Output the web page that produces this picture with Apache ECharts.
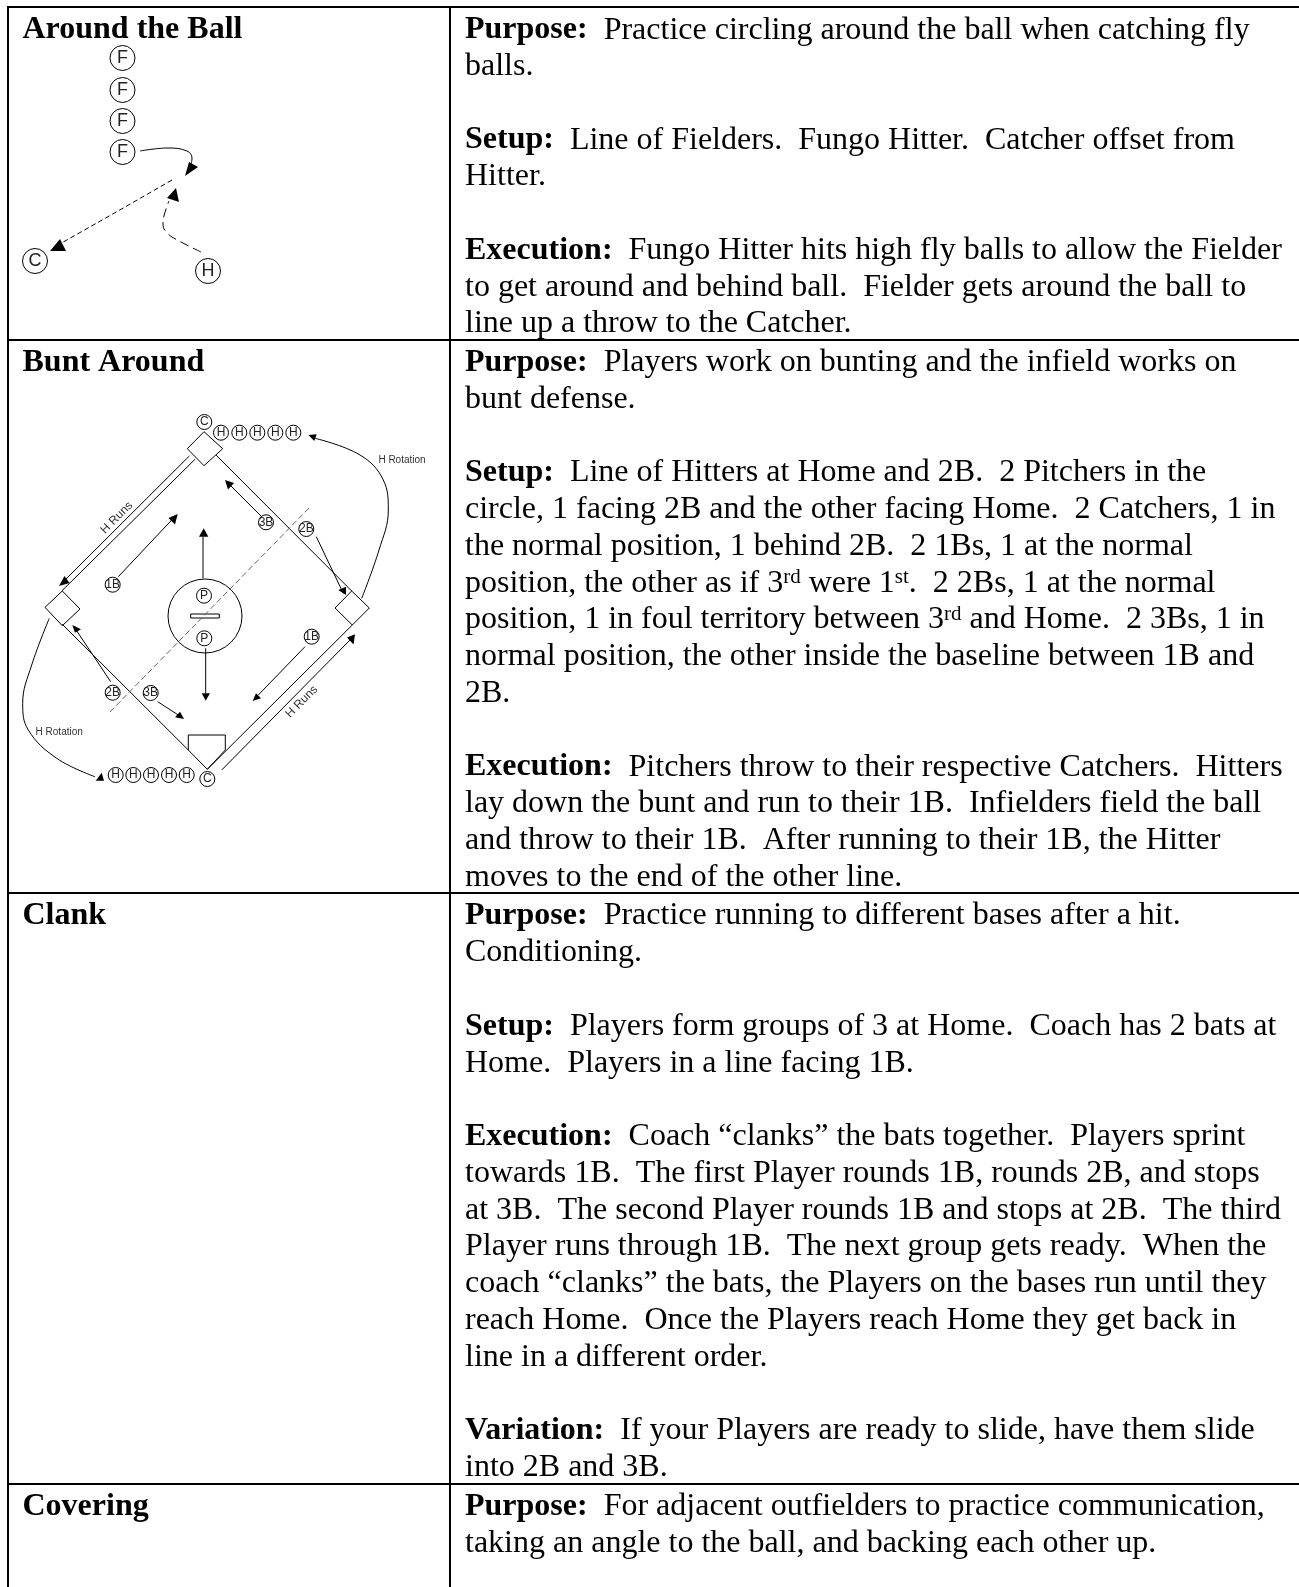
<!DOCTYPE html>
<html>
<head>
<meta charset="utf-8">
<title>Drills</title>
<script src="https://cdn.jsdelivr.net/npm/echarts@6/dist/echarts.min.js"></script>
<style>
html, body { margin: 0; padding: 0; background: #fff; }
#chart { width: 1299px; height: 1587px; }
</style>
</head>
<body>
<div id="chart"></div>
<script>
// 页面文字：每行 [文字, 基线]
const rowTitles = [
	['Around the Ball', 37],
	['Bunt Around', 369.3],
	['Clank', 922.4],
	['Covering', 1513.2]
]
const aroundTheBallText = [
	['{b|Purpose:}  Practice circling around the ball when catching fly', 37],
	['balls.', 73.7],
	['{b|Setup:}  Line of Fielders.  Fungo Hitter.  Catcher offset from', 147],
	['Hitter.', 183.8],
	['{b|Execution:}  Fungo Hitter hits high fly balls to allow the Fielder', 257.3],
	['to get around and behind ball.  Fielder gets around the ball to', 294],
	['line up a throw to the Catcher.', 330.8]
]
const buntAroundText = [
	['{b|Purpose:}  Players work on bunting and the infield works on', 369.3],
	['bunt defense.', 406],
	['{b|Setup:}  Line of Hitters at Home and 2B.  2 Pitchers in the', 479.5],
	['circle, 1 facing 2B and the other facing Home.  2 Catchers, 1 in', 516.3],
	['the normal position, 1 behind 2B.  2 1Bs, 1 at the normal', 553.1],
	['position, the other as if 3{sup|rd} were 1{sup|st}.  2 2Bs, 1 at the normal', 589.9],
	['position, 1 in foul territory between 3{sup|rd} and Home.  2 3Bs, 1 in', 626.7],
	['normal position, the other inside the baseline between 1B and', 663.5],
	['2B.', 700.3],
	['{b|Execution:}  Pitchers throw to their respective Catchers.  Hitters', 773.9],
	['lay down the bunt and run to their 1B.  Infielders field the ball', 810.7],
	['and throw to their 1B.  After running to their 1B, the Hitter', 847.5],
	['moves to the end of the other line.', 884.3]
]
const clankText = [
	['{b|Purpose:}  Practice running to different bases after a hit.', 922.4],
	['Conditioning.', 959.2],
	['{b|Setup:}  Players form groups of 3 at Home.  Coach has 2 bats at', 1033.4],
	['Home.  Players in a line facing 1B.', 1070.2],
	['{b|Execution:}  Coach “clanks” the bats together.  Players sprint', 1143.4],
	['towards 1B.  The first Player rounds 1B, rounds 2B, and stops', 1180.2],
	['at 3B.  The second Player rounds 1B and stops at 2B.  The third', 1217],
	['Player runs through 1B.  The next group gets ready.  When the', 1253.8],
	['coach “clanks” the bats, the Players on the bases run until they', 1290.6],
	['reach Home.  Once the Players reach Home they get back in', 1327.4],
	['line in a different order.', 1364.2],
	['{b|Variation:}  If your Players are ready to slide, have them slide', 1437.7],
	['into 2B and 3B.', 1474.5]
]
const coveringText = [
	['{b|Purpose:}  For adjacent outfielders to practice communication,', 1513.2],
	['taking an angle to the ball, and backing each other up.', 1550]
]

// 表格线
const tableRules = [
	[[7, 7], [1299, 7]],
	[[7, 340], [1299, 340]],
	[[7, 893], [1299, 893]],
	[[7, 1484], [1299, 1484]],
	[[8, 6], [8, 1587]],
	[[450, 6], [450, 1587]]
]

// 第一张图 Around the Ball
const bigPlayers = [[122.5, 58, 'F'], [122.5, 90, 'F'], [122.5, 121, 'F'], [122.5, 152, 'F'], [35, 261, 'C'], [208, 271, 'H']]
const fielderRun = [[140, 151], [168, 148], [187, 151], [192, 158], [191, 165]]
const throwLine = [[172, 180], [125, 207], [58, 245]]
const fungoLine = [[201, 252], [172, 237], [164, 229], [163, 222], [169, 201]]
const ballArrows = [
	[[198, 167], [185, 176], [189, 162]],
	[[50, 251], [60, 239], [66, 251]],
	[[176, 188], [167, 198], [179, 202]]
]

// 第二张图 Bunt Around
const smallPlayers = [
	[204.3, 422, 'C'], [221, 432.7, 'H'], [239.3, 432.7, 'H'], [257.3, 432.7, 'H'], [275.3, 432.7, 'H'], [293.3, 432.7, 'H'],
	[112.7, 584.7, '1B'], [266, 522.3, '3B'], [306.3, 529, '2B'], [204, 595.7, 'P'], [204.3, 638.3, 'P'],
	[311.7, 636.7, '1B'], [112.7, 692.7, '2B'], [150.7, 693, '3B'],
	[115.7, 775, 'H'], [133.3, 775, 'H'], [151, 775, 'H'], [169, 775, 'H'], [186.7, 775, 'H'], [207.3, 779, 'C']
]
const moundMark = [[205, 616]]
const rubber = [[190.7, 614], [219.3, 614], [219.3, 618], [190.7, 618]]
const bases = [
	[[204, 431.7], [222.7, 448.7], [204, 465.7], [187.3, 448.7]],
	[[62.3, 591], [80, 609], [62.3, 625.7], [45, 607.3]],
	[[351.7, 591], [369.3, 608], [352.3, 625], [335, 608]],
	[[188.3, 735], [225.3, 735], [225.3, 750], [207.3, 769.3], [188.3, 750]]
]
const straightLines = [
	[[216, 455], [351.7, 591]],
	[[62.3, 624.3], [188.3, 750]],
	[[207.3, 769.3], [352.3, 625]],
	[[195, 459.3], [61.7, 591]],
	[[189.3, 456], [64, 581]],
	[[221.7, 770], [350, 640]],
	[[118.3, 576.7], [173.3, 518.3]],
	[[203, 578.3], [203, 536.7]],
	[[261.7, 516.7], [230, 485]],
	[[316.3, 536.7], [343.3, 593.3]],
	[[110.7, 681.7], [75, 628.3]],
	[[157.7, 701.7], [178.3, 715]],
	[[205.7, 648.3], [205.7, 693.3]],
	[[305, 646.7], [258.3, 695]]
]
const foulLine = [[309, 508], [108, 714]]
const rotationRight = [[361.7, 598.3], [379, 550], [388.3, 510], [383.3, 480], [360, 455], [315, 438.3]]
const rotationLeft = [[49.3, 618.3], [31.7, 665], [22.7, 703.3], [28.3, 730], [56.7, 758.3], [95, 776.7]]
const buntArrows = [
	[[59, 586], [64.5, 576], [69.5, 583]],
	[[355, 634.3], [347, 637.5], [353.5, 644.5]],
	[[177.7, 514], [168.5, 518], [175, 524.5]],
	[[203.7, 528.3], [199, 536.7], [208.3, 536.7]],
	[[225, 480], [234, 483], [228, 489.5]],
	[[346, 595], [338.3, 590], [346, 586.7]],
	[[308.3, 435], [316.7, 434.3], [314.3, 441]],
	[[95.7, 780.7], [101.7, 772.7], [104, 780.7]],
	[[72.3, 625], [81, 629.3], [75, 632.7]],
	[[184, 719], [175, 717.3], [180, 711.7]],
	[[205.7, 700.7], [201.7, 693.3], [210, 693.3]],
	[[252.7, 701], [256, 693.3], [261, 698.3]]
]
const diagramNotes = [
	['H Runs', 116.7, 517.7, 45],
	['H Runs', 301.7, 701.7, 45],
	['H Rotation', 402, 460.3, 0],
	['H Rotation', 59.2, 732.3, 0]
]

const SERIF = 'Liberation Serif'
const SANS = 'Liberation Sans'
const textFont = { fontFamily: SERIF, fontSize: 32, fontWeight: 'normal', fontStyle: 'normal' }

// 折线
const pathSeries = (points, opts = {}) => ({
	type: 'line',
	data: points,
	silent: true,
	animation: false,
	symbol: 'none',
	clip: false,
	smooth: opts.smooth || false,
	lineStyle: { color: opts.color || '#000', width: opts.width || 1, type: opts.type || 'solid' }
})

// 多边形：底座、箭头
const polygonSeries = (list, style) => ({
	type: 'custom',
	silent: true,
	animation: false,
	clip: false,
	data: list.map(item => item[0]),
	renderItem: (params, api) => ({
		type: 'polygon',
		shape: { points: list[params.dataIndex].map(p => api.coord(p)) },
		style
	})
})

// 圆圈球员
const playerSeries = (list, size, fontSize) => ({
	type: 'scatter',
	silent: true,
	animation: false,
	symbolSize: size,
	clip: false,
	itemStyle: { color: '#fff', borderColor: '#000', borderWidth: 1, opacity: 1 },
	label: { show: true, position: 'inside', formatter: '{b}', color: '#222', fontFamily: SANS, fontSize },
	data: list.map(([x, y, name]) => ({ name, value: [x, y] }))
})

// 文字行
const textSeries = (list, x, weight) => ({
	type: 'custom',
	silent: true,
	animation: false,
	clip: false,
	data: list.map(item => [x, item[1]]),
	renderItem: (params, api) => {
		const pos = api.coord([api.value(0), api.value(1)])
		return {
			type: 'text',
			x: pos[0],
			y: pos[1] - 6.8,
			style: {
				text: list[params.dataIndex][0],
				...textFont,
				fontWeight: weight,
				fill: '#000',
				align: 'left',
				verticalAlign: 'middle',
				rich: {
					b: { ...textFont, fontWeight: 'bold', fill: '#000' },
					sup: { ...textFont, fontSize: 21, fill: '#000', verticalAlign: 'top', lineHeight: 22 }
				}
			}
		}
	}
})

const noteSeries = {
	type: 'custom',
	silent: true,
	animation: false,
	clip: false,
	data: diagramNotes.map(item => [item[1], item[2]]),
	renderItem: (params, api) => {
		const pos = api.coord([api.value(0), api.value(1)])
		const note = diagramNotes[params.dataIndex]
		return {
			type: 'text',
			x: pos[0],
			y: pos[1],
			rotation: note[3] * Math.PI / 180,
			style: {
				text: note[0],
				fontFamily: SANS,
				fontSize: note[3] ? 12 : 10,
				fill: '#333',
				align: 'center',
				verticalAlign: 'middle'
			}
		}
	}
}

const chart = echarts.init(document.getElementById('chart'))
chart.setOption({
	backgroundColor: '#fff',
	animation: false,
	grid: { left: 0, right: 0, top: 0, bottom: 0 },
	xAxis: { type: 'value', min: 0, max: 1299, show: false },
	yAxis: { type: 'value', min: 0, max: 1587, inverse: true, show: false },
	series: [
		...tableRules.map(rule => pathSeries(rule, { width: 2 })),
		textSeries(rowTitles, 22.5, 'bold'),
		textSeries(aroundTheBallText, 465, 'normal'),
		textSeries(buntAroundText, 465, 'normal'),
		textSeries(clankText, 465, 'normal'),
		textSeries(coveringText, 465, 'normal'),
		// 第一张图
		pathSeries(fielderRun, { smooth: 0.4 }),
		pathSeries(throwLine, { type: [5, 3] }),
		pathSeries(fungoLine, { type: [9, 5], smooth: 0.3 }),
		polygonSeries(ballArrows, { fill: '#000' }),
		playerSeries(bigPlayers, 25, 18),
		// 第二张图
		{
			type: 'scatter',
			silent: true,
			animation: false,
			symbolSize: 74,
			itemStyle: { color: 'transparent', borderColor: '#000', borderWidth: 1, opacity: 1 },
			data: moundMark
		},
		polygonSeries([rubber], { fill: '#fff', stroke: '#000', lineWidth: 1 }),
		...straightLines.map(line => pathSeries(line)),
		polygonSeries(bases, { fill: '#fff', stroke: '#000', lineWidth: 1 }),
		pathSeries(foulLine, { color: '#666', type: [6, 3] }),
		pathSeries(rotationRight, { smooth: 0.4 }),
		pathSeries(rotationLeft, { smooth: 0.4 }),
		polygonSeries(buntArrows, { fill: '#000' }),
		playerSeries(smallPlayers, 15, 12),
		noteSeries
	]
})
</script>
</body>
</html>
